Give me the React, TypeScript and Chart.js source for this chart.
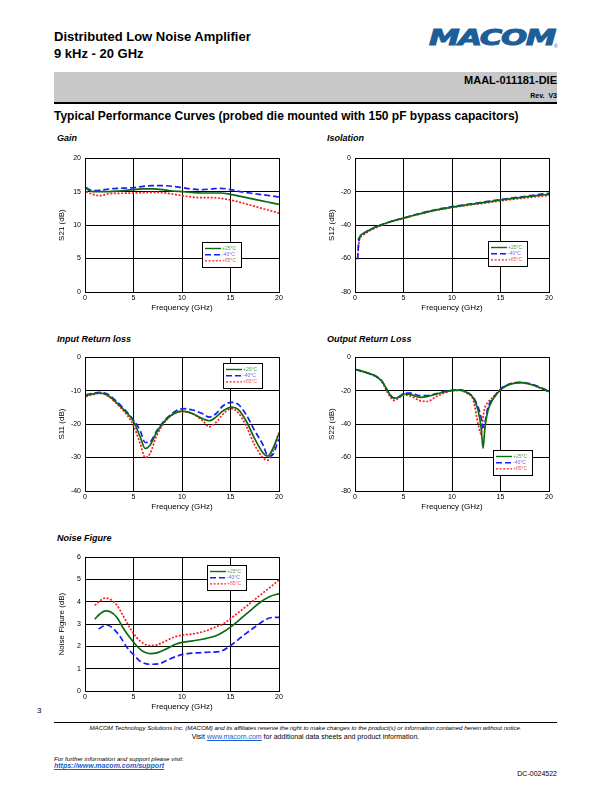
import React, { useEffect, useRef } from "react";
import { Chart, registerables } from "chart.js";

Chart.register(...registerables);

const FONT = "'Liberation Sans', Arial, Helvetica, sans-serif";

// ---------- shared ----------
const seriesLabels = ["+25°C", "-40°C", "+85°C"];
const lineColors = ["#0c6b12", "#1a1aff", "#ff1a1a"];
const legendTextColors = ["#4f9f4f", "#6a6ae8", "#e85a5a"];
const lineDashes: number[][] = [[], [6, 3], [2, 1.6]];
const freqTicks = [0, 5, 10, 15, 20];

// ---------- Gain (S21) ----------
const gainFreq = [0.1, 0.8, 1.5, 2.5, 3.5, 5, 6, 7, 8, 9, 10, 11, 12, 13, 14, 15, 16, 17, 18, 19, 20];
const gain25 = [15.5, 15.0, 15.0, 15.0, 15.1, 15.3, 15.4, 15.4, 15.3, 15.1, 15.0, 14.9, 14.8, 14.8, 14.8, 14.6, 14.3, 14.0, 13.7, 13.4, 13.1];
const gainM40 = [15.6, 15.15, 15.2, 15.4, 15.5, 15.6, 15.8, 15.9, 15.9, 15.8, 15.6, 15.4, 15.3, 15.4, 15.5, 15.3, 15.0, 14.8, 14.6, 14.4, 14.2];
const gain85 = [15.0, 14.6, 14.4, 14.7, 14.75, 14.8, 14.85, 14.9, 14.85, 14.65, 14.4, 14.2, 14.1, 14.1, 14.0, 13.75, 13.4, 13.0, 12.6, 12.2, 11.8];

// ---------- Isolation (S12) ----------
const isoFreq = [0.27, 0.35, 0.45, 0.6, 0.85, 1.2, 1.8, 2.4, 3.6, 5, 6.7, 8.4, 10, 11.8, 13.5, 15, 17, 18.7, 20];
const iso25 = [-48.5, -48.3, -47.5, -46, -45, -43.8, -42, -40.5, -38, -35.8, -33.2, -30.9, -29.2, -27.7, -26.3, -25, -23.6, -22.4, -21.6];
const isoM40 = [-60.5, -52, -48, -46.5, -45.2, -43.8, -42, -40.5, -38, -35.8, -33, -30.7, -29, -27.5, -26, -24.7, -23.2, -21.9, -21.0];
const iso85 = [-60, -54, -49, -47, -46, -44.5, -42.5, -41, -38.3, -36, -33.4, -31.1, -29.5, -28, -26.7, -25.5, -24.1, -23, -22.3];

// ---------- Input Return Loss (S11) ----------
const irlFreq = [0.1, 0.8, 1.5, 2.3, 3.3, 4.3, 5, 5.7, 6.2, 6.7, 7.4, 8.4, 9.4, 10.1, 11.1, 12.2, 12.8, 13.5, 14.2, 15.1, 15.8, 16.6, 17.5, 18.4, 18.8, 19.2, 20];
const irl25 = [-11.4, -11.0, -10.7, -11.3, -13.7, -16.6, -19.2, -23.9, -27.3, -26.3, -22.4, -18.5, -16.5, -16.1, -16.9, -18.5, -19.0, -17.9, -16.1, -14.9, -15.6, -19.0, -24.4, -28.8, -29.6, -28.3, -22.9];
const irlM40 = [-11.3, -10.8, -10.5, -11.0, -13.3, -16.3, -18.8, -22.0, -25.5, -25.3, -22.0, -18.3, -16.0, -15.4, -15.8, -17.0, -17.9, -16.9, -14.6, -13.5, -14.1, -17.1, -22.0, -26.5, -29.3, -29.5, -24.5];
const irl85 = [-11.7, -11.2, -10.8, -11.5, -14.0, -17.2, -20.5, -25.9, -30.0, -28.8, -23.4, -18.8, -16.6, -16.3, -16.9, -19.2, -20.8, -19.5, -17.1, -15.4, -16.6, -20.5, -26.3, -30.2, -30.8, -29.3, -22.4];

// ---------- Output Return Loss (S22) ----------
const orlFreq = [0.1, 0.8, 1.5, 2.2, 2.8, 3.3, 3.8, 4.1, 4.6, 5.1, 5.8, 6.7, 7.4, 8.4, 9.4, 10.1, 10.8, 11.5, 12.2, 12.7, 13.0, 13.2, 13.4, 13.7, 14.2, 15.1, 16, 17, 18, 19, 20];
const orl25 = [-7.4, -8.5, -9.8, -11.5, -14.5, -19.5, -24, -24.5, -23.6, -22, -22.4, -24, -23.6, -22, -20.5, -19.9, -19.7, -20.9, -24.4, -32, -42, -54.5, -42, -32, -25.4, -18.9, -16.2, -15.2, -16, -18.1, -20.5];
const orlM40 = [-7.4, -8.5, -9.8, -11.5, -14.5, -19.5, -23.5, -24.5, -23.3, -21.5, -21.5, -23, -23, -21.8, -20.3, -19.7, -19.5, -20.8, -24, -30, -36, -42, -39, -30, -24.8, -18.6, -15.9, -15, -15.8, -17.8, -20.3];
const orl85 = [-7.6, -8.7, -10, -11.8, -15, -20.5, -25, -25.8, -24, -22.5, -23.5, -26, -26.5, -23.5, -21, -20, -19.8, -21.5, -26, -40, -46, -36, -30, -27, -24, -18.8, -16, -15.2, -16.2, -18.3, -20.8];

// ---------- Noise Figure ----------
const nfFreq = [1.0, 1.5, 2.1, 2.6, 3.3, 3.9, 4.6, 5.3, 6.0, 6.7, 7.4, 8.4, 9.4, 10.1, 11.1, 12.2, 13.5, 14.2, 15.1, 16.0, 17.0, 18.0, 19.0, 20.0];
const nf25 = [3.22, 3.44, 3.59, 3.55, 3.3, 2.85, 2.41, 2.04, 1.77, 1.68, 1.71, 1.89, 2.11, 2.19, 2.25, 2.33, 2.48, 2.63, 2.9, 3.22, 3.59, 3.96, 4.23, 4.37];
const nf85 = [3.84, 4.03, 4.17, 4.11, 3.84, 3.4, 2.85, 2.41, 2.14, 2.04, 2.07, 2.26, 2.45, 2.51, 2.56, 2.66, 2.88, 3.0, 3.28, 3.58, 3.93, 4.28, 4.62, 4.98];
const nfFreqM40 = [1.4, 2.2, 2.9, 3.6, 4.3, 5.0, 5.7, 6.7, 7.7, 8.4, 9.4, 10.1, 11.5, 12.9, 13.9, 15.1, 16.3, 17.7, 18.7, 19.4, 20];
const nfM40 = [2.78, 2.96, 2.81, 2.45, 1.97, 1.63, 1.33, 1.2, 1.23, 1.37, 1.55, 1.64, 1.71, 1.74, 1.77, 2.07, 2.48, 2.93, 3.22, 3.3, 3.3];

type Series = { x: number[]; y: number[] };

const insetLegend = {
  id: "insetLegend",
  afterDraw(chart: any, _args: any, opts: any) {
    if (!opts || opts.dx === undefined) return;
    const { ctx, chartArea } = chart;
    const x0 = Math.round(chartArea.left + opts.dx);
    const y0 = Math.round(chartArea.top + opts.dy);
    const w = 39;
    const h = 25;
    ctx.save();
    ctx.fillStyle = "#fff";
    ctx.fillRect(x0, y0, w, h);
    ctx.strokeStyle = "#000";
    ctx.lineWidth = 1;
    ctx.setLineDash([]);
    ctx.strokeRect(x0 + 0.5, y0 + 0.5, w, h);
    chart.data.datasets.forEach((ds: any, i: number) => {
      const y = y0 + 6.5 + i * 6.2;
      ctx.strokeStyle = ds.borderColor;
      ctx.lineWidth = 1.4;
      ctx.setLineDash(ds.borderDash || []);
      ctx.beginPath();
      ctx.moveTo(x0 + 3, y);
      ctx.lineTo(x0 + 19, y);
      ctx.stroke();
      ctx.setLineDash([]);
      ctx.fillStyle = legendTextColors[i];
      ctx.font = `5px ${FONT}`;
      ctx.textBaseline = "middle";
      ctx.textAlign = "left";
      ctx.fillText(ds.label, x0 + 20, y);
    });
    ctx.restore();
  },
};

const PADL = 32;
const PADT = 6;
const PADR = 8;
const PADB = 25;

type PlotProps = {
  left: number;
  top: number;
  w: number;
  h: number;
  yMin: number;
  yMax: number;
  yStep: number;
  yTitle: string;
  series: Series[];
  legend: { dx: number; dy: number };
};

function Plot(p: PlotProps) {
  const ref = useRef<HTMLCanvasElement | null>(null);
  const cw = p.w + PADL + PADR;
  const ch = p.h + PADT + PADB;
  useEffect(() => {
    if (!ref.current) return;
    const tickFont = { family: FONT, size: 7 };
    const titleFont = { family: FONT, size: 8 };
    const chart = new Chart(ref.current, {
      type: "line",
      data: {
        datasets: p.series.map((s, i) => ({
          label: seriesLabels[i],
          data: s.x.map((x, j) => ({ x, y: s.y[j] })),
          borderColor: lineColors[i],
          backgroundColor: lineColors[i],
          borderDash: lineDashes[i],
          borderWidth: 1.7,
          pointRadius: 0,
          fill: false,
          cubicInterpolationMode: "monotone" as const,
        })),
      },
      options: {
        responsive: false,
        animation: false,
        devicePixelRatio: 1,
        layout: { padding: { top: PADT, right: PADR, left: 0, bottom: 0 } },
        plugins: {
          legend: { display: false },
          tooltip: { enabled: false },
          insetLegend: p.legend,
        } as any,
        scales: {
          x: {
            type: "linear",
            min: freqTicks[0],
            max: freqTicks[freqTicks.length - 1],
            afterBuildTicks: (s: any) => {
              s.ticks = freqTicks.map((v) => ({ value: v }));
            },
            ticks: { font: tickFont, color: "#000", padding: 2, maxRotation: 0, autoSkip: false },
            grid: { color: "#000", lineWidth: 1, drawTicks: false },
            border: { color: "#000", width: 1 },
            title: {
              display: true,
              text: "Frequency (GHz)",
              font: titleFont,
              color: "#000",
              padding: { top: 0, bottom: 4 },
            },
            afterFit: (s: any) => {
              s.height = PADB;
            },
          },
          y: {
            type: "linear",
            min: p.yMin,
            max: p.yMax,
            ticks: { stepSize: p.yStep, font: tickFont, color: "#000", padding: 4 },
            grid: { color: "#000", lineWidth: 1, drawTicks: false },
            border: { color: "#000", width: 1 },
            title: {
              display: true,
              text: p.yTitle,
              font: titleFont,
              color: "#000",
              padding: { top: 4, bottom: 0 },
            },
            afterFit: (s: any) => {
              s.width = PADL;
            },
          },
        },
      } as any,
      plugins: [insetLegend as any],
    });
    return () => chart.destroy();
  }, []);
  return (
    <canvas
      ref={ref}
      width={cw}
      height={ch}
      style={{
        position: "absolute",
        left: p.left - PADL,
        top: p.top - PADT,
        width: cw,
        height: ch,
      }}
    />
  );
}

const abs = (s: React.CSSProperties): React.CSSProperties => ({
  position: "absolute",
  margin: 0,
  whiteSpace: "nowrap",
  fontFamily: FONT,
  color: "#000",
  ...s,
});

function ChartTitle({ x, y, text }: { x: number; y: number; text: string }) {
  return (
    <div style={abs({ left: x, top: y, fontSize: 9, lineHeight: "10px", fontWeight: "bold", fontStyle: "italic" })}>
      {text}
    </div>
  );
}

export default function App() {
  return (
    <div style={{ position: "absolute", left: 0, top: 0, width: 612, height: 792, background: "#fff", overflow: "hidden" }}>
      {/* Header */}
      <div style={abs({ left: 54, top: 30, fontSize: 13, lineHeight: "14px", fontWeight: "bold" })}>
        Distributed Low Noise Amplifier
      </div>
      <div style={abs({ left: 54, top: 47, fontSize: 13, lineHeight: "14px", fontWeight: "bold" })}>9 kHz - 20 GHz</div>
      <div
        style={abs({
          left: 429,
          top: 26,
          fontSize: 22,
          lineHeight: "24px",
          fontWeight: "bold",
          fontStyle: "italic",
          fontFamily: "'DejaVu Sans', sans-serif",
          color: "#1c5f98",
          transform: "scaleX(1.4)",
          transformOrigin: "left top",
          letterSpacing: "-1px",
          WebkitTextStroke: "1px #1c5f98",
        })}
      >
        MACOM
      </div>
      <div style={abs({ left: 554, top: 43, fontSize: 5, lineHeight: "6px", color: "#1c5f98" })}>®</div>

      <div style={{ position: "absolute", left: 54, top: 72, width: 503, height: 30, background: "#c8c8c8" }} />
      <div style={{ position: "absolute", left: 54, top: 102, width: 503, height: 1.5, background: "#000" }} />
      <div style={abs({ right: 55, top: 74, fontSize: 11, lineHeight: "12px", fontWeight: "bold" })}>MAAL-011181-DIE</div>
      <div style={abs({ right: 55, top: 92, fontSize: 7, lineHeight: "8px", fontWeight: "bold" })}>Rev.&nbsp; V3</div>
      <div style={abs({ left: 54, top: 110, fontSize: 12, lineHeight: "13px", fontWeight: "bold" })}>
        Typical Performance Curves (probed die mounted with 150 pF bypass capacitors)
      </div>

      {/* Chart titles */}
      <ChartTitle x={57} y={133} text="Gain" />
      <ChartTitle x={327} y={133} text="Isolation" />
      <ChartTitle x={57} y={334} text="Input Return loss" />
      <ChartTitle x={327} y={334} text="Output Return Loss" />
      <ChartTitle x={57} y={533} text="Noise Figure" />

      <Plot
        left={85}
        top={156}
        w={194}
        h={136}
        yMin={0}
        yMax={20}
        yStep={5}
        yTitle="S21 (dB)"
        series={[
          { x: gainFreq, y: gain25 },
          { x: gainFreq, y: gainM40 },
          { x: gainFreq, y: gain85 },
        ]}
        legend={{ dx: 117, dy: 84 }}
      />
      <Plot
        left={355}
        top={156}
        w={194}
        h={136}
        yMin={-80}
        yMax={0}
        yStep={20}
        yTitle="S12 (dB)"
        series={[
          { x: isoFreq, y: iso25 },
          { x: isoFreq, y: isoM40 },
          { x: isoFreq, y: iso85 },
        ]}
        legend={{ dx: 133, dy: 83 }}
      />
      <Plot
        left={85}
        top={355}
        w={194}
        h={136}
        yMin={-40}
        yMax={0}
        yStep={10}
        yTitle="S11 (dB)"
        series={[
          { x: irlFreq, y: irl25 },
          { x: irlFreq, y: irlM40 },
          { x: irlFreq, y: irl85 },
        ]}
        legend={{ dx: 138, dy: 6 }}
      />
      <Plot
        left={355}
        top={355}
        w={194}
        h={136}
        yMin={-80}
        yMax={0}
        yStep={20}
        yTitle="S22 (dB)"
        series={[
          { x: orlFreq, y: orl25 },
          { x: orlFreq, y: orlM40 },
          { x: orlFreq, y: orl85 },
        ]}
        legend={{ dx: 138, dy: 93 }}
      />
      <Plot
        left={85}
        top={555}
        w={194}
        h={136}
        yMin={0}
        yMax={6}
        yStep={1}
        yTitle="Noise Figure (dB)"
        series={[
          { x: nfFreq, y: nf25 },
          { x: nfFreqM40, y: nfM40 },
          { x: nfFreq, y: nf85 },
        ]}
        legend={{ dx: 122, dy: 8 }}
      />

      {/* Footer */}
      <div style={abs({ left: 37, top: 706, fontSize: 8, lineHeight: "9px" })}>3</div>
      <div style={{ position: "absolute", left: 54, top: 722, width: 503, height: 1, background: "#000" }} />
      <div style={abs({ left: 54, width: 503, top: 724, fontSize: 6.2, lineHeight: "8px", fontStyle: "italic", textAlign: "center", letterSpacing: "-0.05px" })}>
        MACOM Technology Solutions Inc. (MACOM) and its affiliates reserve the right to make changes to the product(s) or information contained herein without notice.
      </div>
      <div style={abs({ left: 54, width: 503, top: 733, fontSize: 7, lineHeight: "8px", textAlign: "center" })}>
        Visit <span style={{ color: "#1a5fd0", textDecoration: "underline" }}>www.macom.com</span> for additional data sheets and product information.
      </div>
      <div style={abs({ left: 54, top: 755, fontSize: 6.2, lineHeight: "7px", fontStyle: "italic" })}>
        For further information and support please visit:
      </div>
      <div style={abs({ left: 54, top: 762, fontSize: 7, lineHeight: "8px", fontStyle: "italic", fontWeight: "bold", color: "#1a5fd0", textDecoration: "underline" })}>
        https://www.macom.com/support
      </div>
      <div style={abs({ right: 55, top: 770, fontSize: 7, lineHeight: "8px" })}>DC-0024522</div>
    </div>
  );
}
